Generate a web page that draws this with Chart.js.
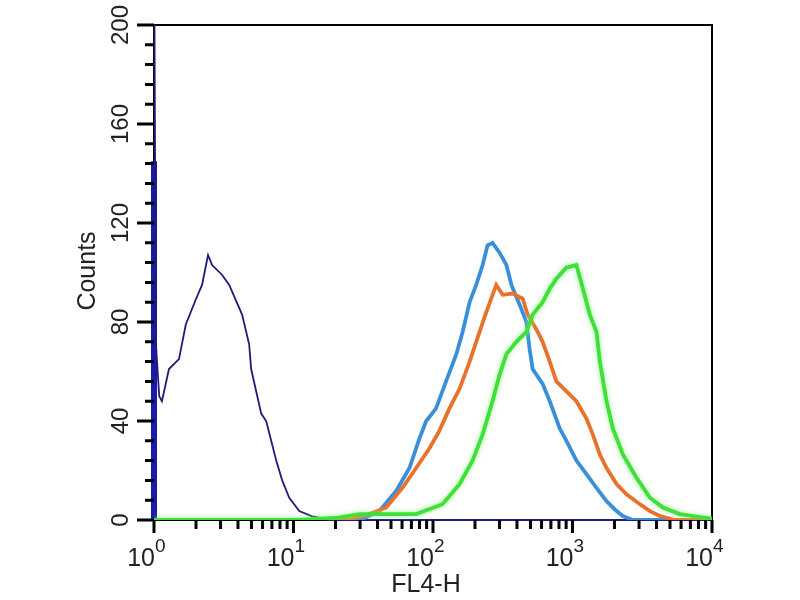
<!DOCTYPE html>
<html>
<head>
<meta charset="utf-8">
<script src="https://cdn.jsdelivr.net/npm/chart.js@4.4.1/dist/chart.umd.min.js"></script>
<style>
  html, body { margin: 0; padding: 0; background: #fff; }
  canvas { display: block; }
</style>
</head>
<body>
<canvas id="histChart" width="800" height="600"></canvas>
<script>
// 軸の目盛り
const xDecades   = [1, 10, 100, 1000, 10000];
const xExponents = ['0', '1', '2', '3', '4'];
const yTicks     = [0, 40, 80, 120, 160, 200];

// アイソタイプ（紺）
const navyX = [1, 1.03, 1.09, 1.14, 1.28, 1.51, 1.69, 1.99, 2.21, 2.44, 2.61, 3.08, 3.46, 4.28, 4.81, 4.97, 5.40, 5.87, 6.37, 6.92, 7.52, 8.30, 9.32, 11.0, 13.6, 15.3, 18, 10000];
const navyY = [250, 72, 50, 48, 61, 65, 79, 89, 95, 107, 103, 99, 95, 83, 71, 61, 52, 43, 40, 32, 24, 16, 9, 3.6, 1.5, 1, 0, 0];

// 最初のチャンネルに溜まったイベント
const firstBinX = [1, 1];
const firstBinY = [0, 145];

const blueX = [1, 30, 41.3, 54.4, 67.8, 80, 89.4, 105, 124, 147, 163, 183, 204, 227, 246, 267, 300, 336, 365, 418, 467, 493, 518, 611, 687, 810, 905, 1067, 1259, 1486, 1754, 2069, 2296, 2700, 10000];
const blueY = [0, 0, 3.6, 11.7, 21, 33, 40, 45, 56, 67, 76, 88, 95, 103, 111, 112, 108, 103, 95, 87, 80, 69, 61, 55, 48, 37, 32, 24, 18.5, 13, 7.6, 3.6, 1.6, 0, 0];

const orangeX = [1, 25, 35, 46.1, 60.4, 75.7, 94.4, 111, 131, 155, 183, 204, 241, 284, 316, 372, 439, 477, 551, 611, 687, 767, 905, 1067, 1259, 1397, 1570, 1754, 2069, 2439, 3040, 3589, 4236, 5420, 10000];
const orangeY = [0, 0, 2.4, 5, 13, 21, 29, 36, 45, 53, 64, 72, 84, 95, 91, 91.5, 89.5, 83, 77, 72, 64, 56, 52, 48, 41, 34.6, 26.5, 21, 14.5, 10.4, 6.4, 3.6, 1.6, 0, 0];

const greenX = [1, 11, 21, 29.7, 75.7, 117, 155, 192, 227, 267, 300, 336, 396, 467, 518, 611, 687, 767, 905, 1067, 1186, 1331, 1486, 1570, 1754, 1945, 2296, 2879, 3589, 4446, 5891, 8204, 10000];
const greenY = [0, 0, 1, 2.4, 2.4, 6.4, 14.5, 24, 34.6, 48, 58.7, 67, 72, 76, 83, 88, 93.5, 97.5, 102, 103, 93.5, 83, 76, 64, 48, 37, 26.5, 17, 9, 5, 2.4, 1.2, 0.5];

const toPoints = (xs, ys) => xs.map((x, i) => ({ x, y: ys[i] }));

const labelFont = '"Liberation Sans", Arial, sans-serif';
const textColor = '#222';

// 枠・目盛り・ラベルを描くプラグイン
const axesPlugin = {
    id: 'axesPlugin',
    beforeDatasetsDraw(chart) {
        const { ctx, chartArea: a } = chart;
        ctx.save();
        ctx.strokeStyle = '#000';
        ctx.lineWidth = 2;
        ctx.strokeRect(a.left, a.top, a.right - a.left, a.bottom - a.top);
        ctx.restore();
    },
    beforeDatasetDraw(chart, args) {
        const ds = chart.data.datasets[args.index];
        if (ds.glow) {
            chart.ctx.save();
            chart.ctx.shadowColor = ds.glow;
            chart.ctx.shadowBlur = 5;
        }
    },
    afterDatasetDraw(chart, args) {
        if (chart.data.datasets[args.index].glow) chart.ctx.restore();
    },
    afterDraw(chart) {
        const { ctx, chartArea: a, scales: { x, y } } = chart;
        ctx.save();
        ctx.strokeStyle = '#000';
        ctx.lineWidth = 3;
        ctx.beginPath();
        // x軸: 各デケードの主目盛りと 2〜9 の副目盛り
        xDecades.forEach((d, i) => {
            const px = x.getPixelForValue(d);
            ctx.moveTo(px, a.bottom);
            ctx.lineTo(px, a.bottom + 13);
            if (i < xDecades.length - 1) {
                for (let m = 2; m <= 9; m++) {
                    const mx = x.getPixelForValue(d * m);
                    ctx.moveTo(mx, a.bottom);
                    ctx.lineTo(mx, a.bottom + 9);
                }
            }
        });
        // y軸: 40ごとの主目盛りと 8 ごとの副目盛り
        for (let v = 0; v <= 200; v += 8) {
            const py = y.getPixelForValue(v);
            const len = yTicks.includes(v) ? 17 : 9;
            ctx.moveTo(a.left, py);
            ctx.lineTo(a.left - len, py);
        }
        ctx.stroke();

        ctx.fillStyle = textColor;
        // x軸ラベル 10^n
        xDecades.forEach((d, i) => {
            const px = x.getPixelForValue(d);
            ctx.font = `25px ${labelFont}`;
            ctx.textAlign = 'right';
            ctx.textBaseline = 'alphabetic';
            ctx.fillText('10', px + 1, 566);
            ctx.font = `19px ${labelFont}`;
            ctx.textAlign = 'left';
            ctx.fillText(xExponents[i], px + 1, 552);
        });
        ctx.font = `25px ${labelFont}`;
        ctx.textAlign = 'center';
        ctx.fillText('FL4-H', 426, 592);

        // y軸ラベル（縦書き）
        ctx.font = `24px ${labelFont}`;
        ctx.textBaseline = 'middle';
        yTicks.forEach(v => {
            const py = y.getPixelForValue(v);
            ctx.save();
            ctx.translate(121, py);
            ctx.rotate(-Math.PI / 2);
            ctx.fillText(String(v), 0, 0);
            ctx.restore();
        });
        ctx.save();
        ctx.font = `25px ${labelFont}`;
        ctx.translate(88, 271);
        ctx.rotate(-Math.PI / 2);
        ctx.fillText('Counts', 0, 0);
        ctx.restore();
        ctx.restore();
    }
};

new Chart(document.getElementById('histChart').getContext('2d'), {
    type: 'line',
    data: {
        datasets: [
            {
                label: 'green',
                data: toPoints(greenX, greenY),
                borderColor: '#3fe03a',
                borderWidth: 3.8,
                glow: 'rgba(140, 245, 130, 0.9)'
            },
            {
                label: 'orange',
                data: toPoints(orangeX, orangeY),
                borderColor: '#e8722c',
                borderWidth: 3.8
            },
            {
                label: 'blue',
                data: toPoints(blueX, blueY),
                borderColor: '#3a8fda',
                borderWidth: 3.8
            },
            {
                label: 'isotype',
                data: toPoints(navyX, navyY),
                borderColor: '#1c1c7a',
                borderWidth: 1.8,
                clip: { left: 3, top: 0, right: 0, bottom: 2 }
            },
            {
                label: 'first bin',
                data: toPoints(firstBinX, firstBinY),
                borderColor: '#1a1aa8',
                borderWidth: 6,
                clip: { left: 3, top: 0, right: 0, bottom: 0 }
            }
        ]
    },
    options: {
        responsive: false,
        animation: false,
        layout: { padding: { left: 154, right: 88, top: 25, bottom: 80 } },
        plugins: {
            legend: { display: false },
            tooltip: { enabled: false }
        },
        elements: {
            point: { radius: 0 },
            line: { tension: 0, fill: false }
        },
        scales: {
            x: { type: 'logarithmic', min: 1, max: 10000, display: false },
            y: { type: 'linear', min: 0, max: 200, display: false }
        }
    },
    plugins: [axesPlugin]
});
</script>
</body>
</html>
